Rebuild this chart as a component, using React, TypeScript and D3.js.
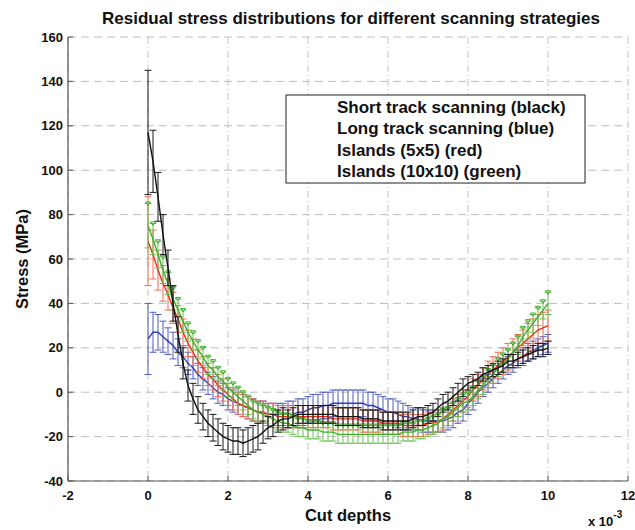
import React from "react";
import * as d3 from "d3";

// Cut depth positions (×10^-3), one sample every 0.125
const cutDepths = [
  0, 0.125, 0.25, 0.375, 0.5, 0.625, 0.75, 0.875,
  1, 1.125, 1.25, 1.375, 1.5, 1.625, 1.75, 1.875,
  2, 2.125, 2.25, 2.375, 2.5, 2.625, 2.75, 2.875,
  3, 3.125, 3.25, 3.375, 3.5, 3.625, 3.75, 3.875,
  4, 4.125, 4.25, 4.375, 4.5, 4.625, 4.75, 4.875,
  5, 5.125, 5.25, 5.375, 5.5, 5.625, 5.75, 5.875,
  6, 6.125, 6.25, 6.375, 6.5, 6.625, 6.75, 6.875,
  7, 7.125, 7.25, 7.375, 7.5, 7.625, 7.75, 7.875,
  8, 8.125, 8.25, 8.375, 8.5, 8.625, 8.75, 8.875,
  9, 9.125, 9.25, 9.375, 9.5, 9.625, 9.75, 9.875,
  10,
];

// Short track scanning (black): mean stress and error half-width (MPa)
const shortTrack = [
  117, 104, 88, 71, 56, 40, 26, 13,
  3, -3, -8, -11, -14, -16, -18, -20,
  -21, -22, -22, -23, -22, -21, -20, -18,
  -16, -15, -13, -12, -12, -11, -10, -10,
  -10, -10, -10, -10, -10, -10, -11, -11,
  -11, -11, -11, -12, -12, -12, -12, -13,
  -13, -13, -13, -13, -13, -12, -11, -11,
  -10, -9, -7, -5, -4, -2, 0, 2,
  4, 5, 6, 8, 9, 10, 11, 12,
  14, 14, 15, 16, 17, 18, 19, 19,
  20,
];
const shortTrackErr = [
  28, 14, 11, 9, 8, 8, 8, 7,
  7, 7, 6, 6, 6, 6, 6, 6,
  6, 6, 6, 6, 6, 6, 6, 5,
  5, 5, 5, 5, 4, 4, 4, 4,
  4, 4, 4, 4, 4, 4, 4, 4,
  4, 4, 4, 4, 4, 4, 4, 4,
  4, 4, 4, 4, 4, 4, 4, 4,
  4, 4, 4, 4, 4, 4, 4, 4,
  3, 3, 3, 3, 3, 3, 3, 3,
  3, 3, 3, 3, 3, 3, 3, 3,
  3,
];

// Long track scanning (blue)
const longTrack = [
  24, 27, 27, 25, 23, 21, 18, 16,
  13, 11, 8, 6, 4, 2, 0, -1,
  -3, -4, -5, -6, -7, -8, -9, -9,
  -10, -10, -10, -10, -10, -10, -9, -9,
  -8, -7, -7, -6, -6, -5, -5, -5,
  -5, -5, -5, -5, -6, -6, -7, -8,
  -9, -9, -10, -11, -11, -12, -12, -13,
  -13, -13, -13, -13, -12, -11, -9, -8,
  -5, -3, 0, 2, 4, 6, 8, 10,
  12, 13, 15, 16, 18, 19, 20, 21,
  22,
];
const longTrackErr = [
  16, 9, 8, 7, 6, 6, 6, 5,
  5, 5, 5, 5, 5, 5, 5, 5,
  5, 5, 5, 5, 5, 5, 5, 5,
  5, 5, 5, 5, 6, 6, 6, 6,
  6, 6, 6, 6, 6, 6, 6, 6,
  6, 6, 6, 6, 6, 6, 6, 6,
  6, 6, 6, 6, 5, 5, 5, 5,
  5, 5, 5, 5, 5, 5, 5, 5,
  5, 5, 5, 4, 4, 4, 4, 4,
  4, 4, 4, 4, 4, 4, 4, 4,
  4,
];

// Islands 5x5 (red)
const islands5 = [
  68, 62, 55, 49, 44, 38, 33, 27,
  22, 18, 14, 11, 8, 6, 3, 1,
  -1, -3, -5, -6, -7, -8, -9, -9,
  -10, -10, -11, -11, -11, -11, -11, -11,
  -11, -11, -11, -11, -11, -12, -12, -12,
  -12, -12, -12, -13, -13, -13, -13, -14,
  -14, -14, -14, -15, -15, -15, -15, -15,
  -14, -14, -13, -12, -10, -8, -6, -4,
  -2, 1, 3, 6, 8, 10, 12, 14,
  16, 18, 20, 22, 24, 26, 28, 29,
  30,
];
const islands5Err = [
  20, 11, 9, 8, 7, 7, 6, 6,
  6, 6, 5, 5, 5, 5, 5, 5,
  5, 5, 5, 5, 5, 5, 5, 5,
  5, 5, 5, 5, 5, 5, 5, 5,
  5, 5, 5, 5, 5, 5, 5, 5,
  5, 5, 5, 5, 5, 5, 5, 5,
  5, 5, 5, 5, 5, 5, 5, 5,
  5, 5, 5, 5, 5, 5, 5, 5,
  5, 5, 5, 5, 6, 6, 6, 6,
  6, 6, 6, 6, 7, 7, 7, 7,
  7,
];

// Islands 10x10 (green)
const islands10 = [
  75, 69, 62, 55, 49, 42, 37, 32,
  27, 23, 19, 16, 12, 10, 7, 5,
  2, 0, -2, -4, -6, -8, -9, -10,
  -11, -12, -13, -14, -14, -15, -16, -16,
  -17, -17, -17, -18, -18, -18, -19, -19,
  -19, -19, -19, -19, -19, -19, -19, -19,
  -19, -19, -19, -18, -18, -18, -17, -17,
  -16, -15, -14, -12, -11, -9, -7, -5,
  -4, -2, 1, 3, 6, 8, 11, 13,
  15, 18, 21, 25, 28, 31, 34, 37,
  40,
];
const islands10Err = [
  10, 7, 6, 6, 5, 5, 5, 5,
  4, 4, 4, 4, 4, 4, 4, 4,
  4, 4, 4, 4, 4, 4, 4, 4,
  4, 4, 4, 4, 4, 4, 4, 4,
  4, 4, 4, 4, 4, 4, 4, 4,
  4, 4, 4, 4, 4, 4, 4, 4,
  4, 4, 4, 4, 4, 4, 4, 4,
  4, 4, 4, 4, 4, 4, 4, 4,
  4, 4, 4, 4, 4, 4, 4, 4,
  4, 4, 4, 4, 4, 4, 4, 4,
  5,
];

const xTicks = [-2, 0, 2, 4, 6, 8, 10, 12];
const yTicks = [-40, -20, 0, 20, 40, 60, 80, 100, 120, 140, 160];

const legendLabels = [
  "Short track scanning (black)",
  "Long track scanning (blue)",
  "Islands (5x5) (red)",
  "Islands (10x10) (green)",
];

const W = 635;
const H = 530;
const left = 68;
const right = 628;
const top = 37;
const bottom = 481;

const FONT = "'Liberation Sans', Arial, sans-serif";

export default function App() {
  const x = d3.scaleLinear().domain([-2, 12]).range([left, right]);
  const y = d3.scaleLinear().domain([-40, 160]).range([bottom, top]);

  const series = [
    { vals: longTrack, err: longTrackErr, line: "#2f3fae", bar: "#4f5dbd", marker: false },
    { vals: islands5, err: islands5Err, line: "#ee2a14", bar: "#f26a4e", marker: false },
    { vals: islands10, err: islands10Err, line: "#3fae2c", bar: "#66c250", marker: true },
    { vals: shortTrack, err: shortTrackErr, line: "#111111", bar: "#1a1a1a", marker: false },
  ];

  const lineGen = d3
    .line<number>()
    .x((_, i) => x(cutDepths[i]))
    .y((v) => y(v));

  const cap = 3.5;

  return (
    <svg
      width={W}
      height={H}
      style={{ position: "absolute", left: 0, top: 0, background: "#fff" }}
      fontFamily={FONT}
    >
      <rect x={0} y={0} width={W} height={H} fill="#fff" />
      {/* grid */}
      {yTicks.map((t) => (
        <line
          key={"gy" + t}
          x1={left}
          x2={right}
          y1={y(t)}
          y2={y(t)}
          stroke="#bdbdbd"
          strokeWidth={1}
          strokeDasharray="8,5"
        />
      ))}
      {xTicks.map((t) => (
        <line
          key={"gx" + t}
          x1={x(t)}
          x2={x(t)}
          y1={top}
          y2={bottom}
          stroke="#c4c4c4"
          strokeWidth={1}
          strokeDasharray="7,3,1,3"
        />
      ))}

      {/* series: error bars, mean line, markers */}
      {series.map((s, si) => (
        <g key={"s" + si}>
          {s.vals.map((v, i) => {
            const cx = x(cutDepths[i]);
            const y1 = y(v + s.err[i]);
            const y2 = y(v - s.err[i]);
            return (
              <g key={i} stroke={s.bar} strokeWidth={1}>
                <line x1={cx} x2={cx} y1={y1} y2={y2} />
                <line x1={cx - cap} x2={cx + cap} y1={y1} y2={y1} />
                <line x1={cx - cap} x2={cx + cap} y1={y2} y2={y2} />
              </g>
            );
          })}
          <path d={lineGen(s.vals) || ""} fill="none" stroke={s.line} strokeWidth={1.4} />
          {s.marker &&
            s.vals.map((v, i) => {
              const cx = x(cutDepths[i]);
              const cy = y(v + s.err[i]);
              return (
                <path
                  key={"m" + i}
                  d={`M${cx - 2.5},${cy - 1.5}L${cx + 2.5},${cy - 1.5}L${cx},${cy + 2}Z`}
                  fill="none"
                  stroke={s.line}
                  strokeWidth={1}
                />
              );
            })}
        </g>
      ))}

      {/* axes */}
      <line x1={left} x2={left} y1={top} y2={bottom} stroke="#555" strokeWidth={1.2} />
      <line x1={left} x2={right} y1={bottom} y2={bottom} stroke="#555" strokeWidth={1.2} />
      {yTicks.map((t) => (
        <g key={"ty" + t}>
          <line x1={left} x2={left + 5} y1={y(t)} y2={y(t)} stroke="#555" />
          <text
            x={left - 5}
            y={y(t)}
            dy="0.35em"
            textAnchor="end"
            fontSize={13}
            fontWeight="bold"
            fill="#111"
          >
            {t}
          </text>
        </g>
      ))}
      {xTicks.map((t) => (
        <g key={"tx" + t}>
          <line x1={x(t)} x2={x(t)} y1={bottom} y2={bottom - 5} stroke="#555" />
          <text
            x={x(t)}
            y={bottom + 14}
            dy="0.35em"
            textAnchor="middle"
            fontSize={13}
            fontWeight="bold"
            fill="#111"
          >
            {t}
          </text>
        </g>
      ))}

      {/* labels */}
      <text
        x={351}
        y={18}
        dy="0.35em"
        textAnchor="middle"
        fontSize={17}
        fontWeight="bold"
        fill="#111"
      >
        Residual stress distributions for different scanning strategies
      </text>
      <text
        x={348}
        y={515}
        dy="0.35em"
        textAnchor="middle"
        fontSize={16.5}
        fontWeight="bold"
        fill="#111"
      >
        Cut depths
      </text>
      <text
        transform={`translate(22,${(top + bottom) / 2}) rotate(-90)`}
        dy="0.35em"
        textAnchor="middle"
        fontSize={16.5}
        fontWeight="bold"
        fill="#111"
      >
        Stress (MPa)
      </text>
      <text x={588} y={526} fontSize={13} fontWeight="bold" fill="#111">
        x 10
        <tspan dy={-8} fontSize={10}>
          -3
        </tspan>
      </text>

      {/* legend */}
      <rect x={286} y={95} width={299} height={88} fill="#fff" stroke="#222" strokeWidth={1} />
      {legendLabels.map((l, i) => (
        <text
          key={l}
          x={337}
          y={107 + i * 21.5}
          dy="0.35em"
          fontSize={17}
          fontWeight="bold"
          fill="#111"
        >
          {l}
        </text>
      ))}
    </svg>
  );
}
